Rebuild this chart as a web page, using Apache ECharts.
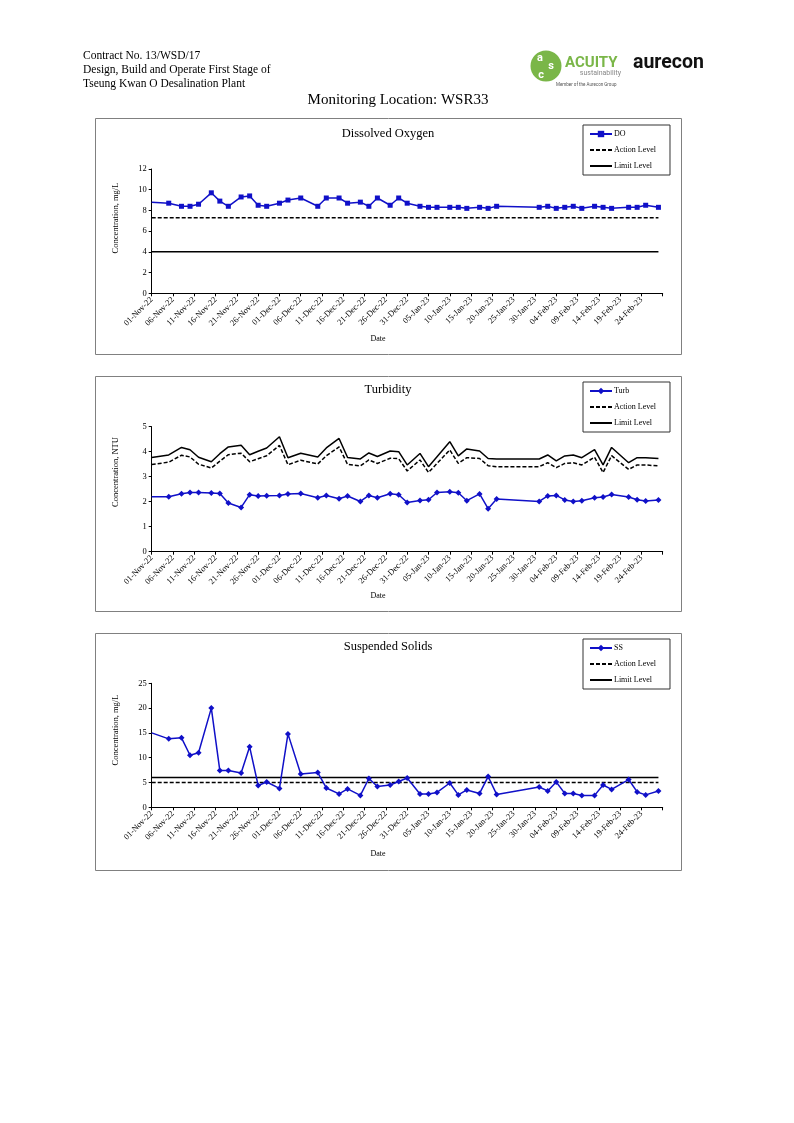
<!DOCTYPE html>
<html><head><meta charset="utf-8">
<script src="https://cdn.jsdelivr.net/npm/echarts@6/dist/echarts.min.js"></script>
<style>html,body{margin:0;padding:0;background:#fff}#c{width:794px;height:1123px}</style>
</head><body><div id="c"></div>
<script>
// ---------- DATA ----------
const dates = ['2022-11-01','2022-11-05','2022-11-08','2022-11-10','2022-11-12','2022-11-15','2022-11-17','2022-11-19','2022-11-22','2022-11-24',
  '2022-11-26','2022-11-28','2022-12-01','2022-12-03','2022-12-06','2022-12-10','2022-12-12','2022-12-15','2022-12-17','2022-12-20',
  '2022-12-22','2022-12-24','2022-12-27','2022-12-29','2022-12-31','2023-01-03','2023-01-05','2023-01-07','2023-01-10','2023-01-12',
  '2023-01-14','2023-01-17','2023-01-19','2023-01-21','2023-01-31','2023-02-02','2023-02-04','2023-02-06','2023-02-08','2023-02-10',
  '2023-02-13','2023-02-15','2023-02-17','2023-02-21','2023-02-23','2023-02-25','2023-02-28'];

const doValues = [8.8,8.7,8.4,8.4,8.6,9.7,8.9,8.4,9.3,9.4,
  8.5,8.4,8.7,9.0,9.2,8.4,9.2,9.2,8.7,8.8,
  8.4,9.2,8.5,9.2,8.7,8.4,8.3,8.3,8.3,8.3,
  8.2,8.3,8.2,8.4,8.3,8.4,8.2,8.3,8.4,8.2,
  8.4,8.3,8.2,8.3,8.3,8.5,8.3];
const doAction = 7.3;
const doLimit = 4.0;

const turbValues = [2.20,2.20,2.32,2.37,2.37,2.35,2.33,1.95,1.77,2.28,
  2.23,2.24,2.25,2.31,2.33,2.16,2.25,2.12,2.23,2.01,
  2.25,2.16,2.32,2.28,1.97,2.05,2.08,2.37,2.40,2.36,
  2.04,2.31,1.72,2.11,2.01,2.23,2.25,2.07,2.01,2.04,
  2.16,2.19,2.29,2.19,2.08,2.03,2.07];
const turbAction = [3.49,3.58,3.86,3.79,3.50,3.35,3.62,3.88,3.94,3.60,
  3.72,3.84,4.25,3.48,3.66,3.51,3.84,4.19,3.49,3.43,
  3.67,3.53,3.74,3.72,3.23,3.67,3.17,3.53,4.07,3.53,
  3.76,3.73,3.44,3.40,3.40,3.56,3.36,3.53,3.56,3.47,
  3.78,3.17,3.84,3.29,3.47,3.47,3.43];
const turbLimit = [3.77,3.87,4.17,4.08,3.78,3.60,3.92,4.19,4.26,3.88,
  4.02,4.15,4.60,3.76,3.94,3.79,4.15,4.53,3.77,3.71,
  3.95,3.81,4.03,4.00,3.47,3.93,3.40,3.80,4.40,3.83,
  4.11,4.03,3.73,3.71,3.71,3.87,3.63,3.83,3.87,3.76,
  4.08,3.47,4.17,3.56,3.76,3.76,3.73];

const ssValues = [15.0,13.8,14.0,10.5,11.0,20.0,7.4,7.4,6.9,12.2,
  4.4,5.1,3.8,14.8,6.7,7.0,3.9,2.7,3.7,2.4,
  5.8,4.2,4.5,5.2,5.9,2.7,2.7,3.0,4.9,2.5,
  3.5,2.8,6.2,2.6,4.1,3.3,5.1,2.8,2.8,2.4,
  2.4,4.5,3.6,5.6,3.1,2.5,3.3];
const ssAction = 5.0;
const ssLimit = 6.0;

const axisStart = '2022-11-01';
const axisEnd = '2023-03-01';
const tickDays = 5;
const months = ['Jan','Feb','Mar','Apr','May','Jun','Jul','Aug','Sep','Oct','Nov','Dec'];

// ---------- helpers ----------
const DAY = 86400000;
const base = Date.parse(axisStart + 'T00:00:00Z');
const dayOf = s => Math.round((Date.parse(s + 'T00:00:00Z') - base) / DAY);
const endDay = dayOf(axisEnd);
const fmtDay = v => {
  if (v >= endDay) return '';
  const d = new Date(base + v * DAY);
  const dd = String(d.getUTCDate()).padStart(2, '0');
  return dd + '-' + months[d.getUTCMonth()] + '-' + String(d.getUTCFullYear()).slice(2);
};
const pairs = vals => dates.map((d, i) => [dayOf(d), Array.isArray(vals) ? vals[i] : vals]);

const SERIF = 'Liberation Serif';
const BLUE = '#1010c8';

const grids = [
  {left: 151.7, top: 169, width: 511, height: 124.3},
  {left: 151.7, top: 426.7, width: 511, height: 125},
  {left: 151.7, top: 683.3, width: 511, height: 124}
];
const yRanges = [{max: 12, step: 2}, {max: 5, step: 1}, {max: 25, step: 5}];

const xAxes = grids.map((g, i) => ({
  type: 'value', gridIndex: i, min: 0, max: endDay, interval: tickDays,
  axisLine: {lineStyle: {color: '#000', width: 1}},
  axisTick: {inside: false, length: 3, lineStyle: {color: '#000'}},
  splitLine: {show: false},
  axisLabel: {rotate: 45, fontSize: 8.5, fontFamily: SERIF, color: '#000', margin: 5, formatter: fmtDay}
}));
const yAxes = grids.map((g, i) => ({
  type: 'value', gridIndex: i, min: 0, max: yRanges[i].max, interval: yRanges[i].step,
  axisLine: {show: true, lineStyle: {color: '#000', width: 1}},
  axisTick: {show: true, length: 3, lineStyle: {color: '#000'}},
  splitLine: {show: false},
  axisLabel: {fontSize: 8.5, fontFamily: SERIF, color: '#000', margin: 5}
}));

const hideFirst = size => (v, p) => p.dataIndex === 0 ? 0 : size;
function levelSeries(name, vals, i, dashed) {
  return {
    name, type: 'line', xAxisIndex: i, yAxisIndex: i, data: pairs(vals),
    symbol: 'none', z: 2, animation: false,
    lineStyle: {color: '#000', width: 1.5, type: dashed ? [4, 2] : 'solid'},
    itemStyle: {color: '#000'}
  };
}
function dataSeries(name, vals, i, symbol, size) {
  return {
    name, type: 'line', xAxisIndex: i, yAxisIndex: i, data: pairs(vals),
    symbol, symbolSize: hideFirst(size), z: 3, animation: false,
    lineStyle: {color: BLUE, width: 1.5}, itemStyle: {color: BLUE}
  };
}

const series = [
  levelSeries('Action Level', doAction, 0, true),
  levelSeries('Limit Level', doLimit, 0, false),
  dataSeries('DO', doValues, 0, 'rect', 5),
  levelSeries('Action Level', turbAction, 1, true),
  levelSeries('Limit Level', turbLimit, 1, false),
  dataSeries('Turb', turbValues, 1, 'diamond', 6),
  levelSeries('Action Level', ssAction, 2, true),
  levelSeries('Limit Level', ssLimit, 2, false),
  dataSeries('SS', ssValues, 2, 'diamond', 6)
];

const noMarker = {color: 'rgba(0,0,0,0)', borderWidth: 0, opacity: 0};
const legendTops = [125, 382, 639];
const legendFirst = ['DO', 'Turb', 'SS'];
const legends = legendTops.map((t, i) => ({
  data: [legendFirst[i], {name: 'Action Level', itemStyle: noMarker}, {name: 'Limit Level', itemStyle: noMarker}],
  orient: 'vertical', left: 583, top: t, width: 80,
  borderColor: '#333', borderWidth: 1, padding: [5, 14, 5, 6],
  itemWidth: 22, itemHeight: 8, itemGap: 8, selectedMode: false,
  textStyle: {fontSize: 8, fontFamily: SERIF, color: '#000', padding: [0, 0, 0, -3]}
}));

const txt = (text, x, y, opt = {}) => ({
  type: 'text', x, y, rotation: opt.rotation || 0, z: 10,
  style: Object.assign({text, fontFamily: SERIF, fontSize: 11.5, fill: '#000',
    textAlign: 'left', textVerticalAlign: 'middle'}, opt.style || {})
});

const boxes = [[95, 118, 586, 236], [95, 376, 586, 235], [95, 633, 586, 237]].map(b => ({
  type: 'rect', shape: {x: b[0] + 0.5, y: b[1] + 0.5, width: b[2], height: b[3]},
  style: {fill: 'none', stroke: '#808080', lineWidth: 1}, z: 0
}));

const titles = ['Dissolved Oxygen', 'Turbidity', 'Suspended Solids'];
const titleY = [134, 390, 647];
const yNames = ['Concentration, mg/L', 'Concentration, NTU', 'Concentration, mg/L'];
const yNameY = [218, 472, 730];
const dateY = [339, 596, 854];
const logoFont = {fontFamily: 'Roboto', fontSize: 11, fontWeight: 'bold', fill: '#fff', textAlign: 'center'};

const graphic = [
  ...boxes,
  txt('Contract No. 13/WSD/17', 83, 56),
  txt('Design, Build and Operate First Stage of', 83, 70),
  txt('Tseung Kwan O Desalination Plant', 83, 84),
  txt('Monitoring Location: WSR33', 398, 100, {style: {fontSize: 15, textAlign: 'center'}}),
  {type: 'circle', shape: {cx: 546, cy: 66, r: 15.5}, style: {fill: '#7ab648'}, z: 10},
  txt('a', 540, 58, {style: logoFont}),
  txt('s', 551, 66, {style: logoFont}),
  txt('c', 541, 75, {style: logoFont}),
  txt('ACUITY', 565, 63, {style: {fontFamily: 'Roboto', fontSize: 15, fontWeight: 'bold', fill: '#7ab648'}}),
  txt('sustainability', 621, 73.5, {style: {fontFamily: 'Roboto', fontSize: 7, fill: '#888', textAlign: 'right'}}),
  txt('Member of the Aurecon Group', 556, 85, {style: {fontFamily: 'Roboto', fontSize: 4.5, fill: '#555'}}),
  txt('aurecon', 633, 63, {style: {fontFamily: 'Roboto', fontSize: 19.5, fontWeight: 'bold', fill: '#111'}}),
  ...titles.map((t, i) => txt(t, 388, titleY[i], {style: {fontSize: 12.5, textAlign: 'center'}})),
  ...yNames.map((t, i) => txt(t, 116, yNameY[i], {rotation: Math.PI / 2, style: {fontSize: 8.5, textAlign: 'center'}})),
  ...dateY.map(y => txt('Date', 378, y, {style: {fontSize: 8, textAlign: 'center'}}))
];

const chart = echarts.init(document.getElementById('c'), null, {renderer: 'canvas'});
chart.setOption({
  backgroundColor: '#fff',
  animation: false,
  grid: grids,
  xAxis: xAxes,
  yAxis: yAxes,
  legend: legends,
  series,
  graphic
});
</script>
</body></html>
